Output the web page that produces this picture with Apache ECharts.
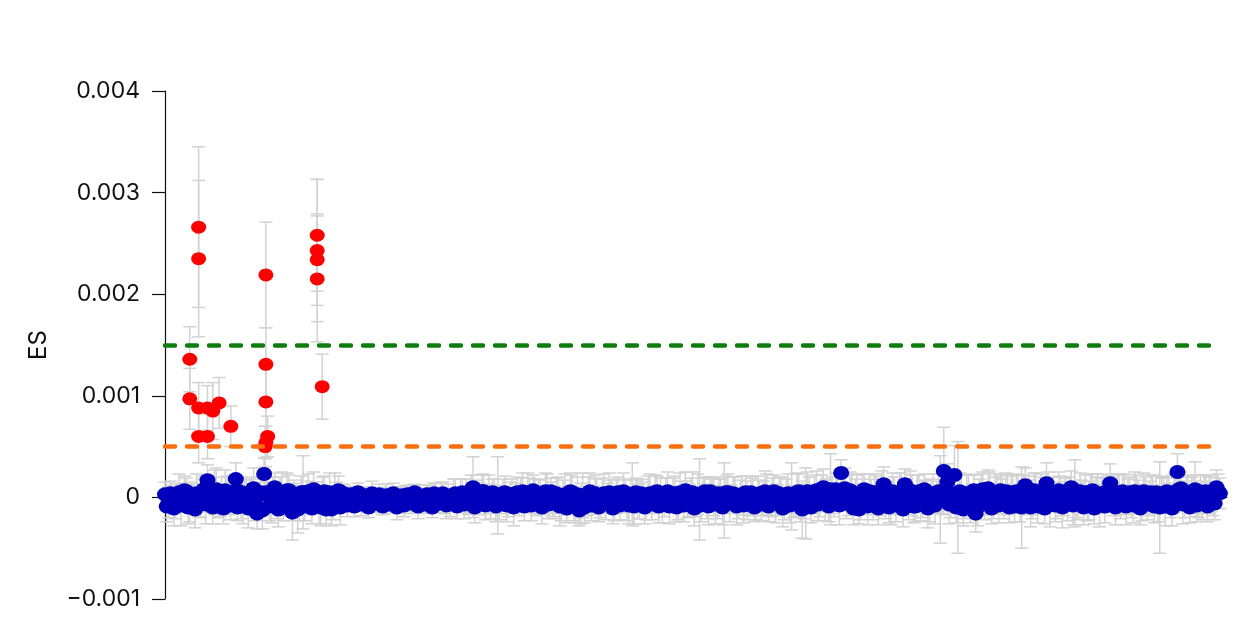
<!DOCTYPE html>
<html>
<head>
<meta charset="utf-8">
<script src="https://cdn.jsdelivr.net/npm/echarts@6/dist/echarts.min.js"></script>
<style>
    html, body { margin: 0; padding: 0; background: #fff; }
    #chart { width: 1234px; height: 623px; }
</style>
</head>
<body>
<div id="chart"></div>
<script>
// y axis ticks
const yTicks = [-0.001, 0, 0.001, 0.002, 0.003, 0.004];
const thresholds = [0.0015, 0.0005];

// significant hits (red)
const redX = [7, 7, 9.5, 9.5, 9.5, 9.5, 12, 12, 13.5, 15.3, 18.6,
    28.5, 28.5, 28.5, 29, 28.5, 28.3, 43, 43, 43, 43, 44.4];
const redES = [0.00136, 0.00097, 0.00266, 0.00235, 0.00088, 0.00060, 0.00088, 0.00060, 0.00085, 0.00093, 0.00070,
    0.00219, 0.00131, 0.00094, 0.00060, 0.00054, 0.00050, 0.00258, 0.00243, 0.00234, 0.00215, 0.00109];
const redSE = [0.00032, 0.00030, 0.00079, 0.00077, 0.00025, 0.00026, 0.00022, 0.00022, 0.00028, 0.00025, 0.00020,
    0.00052, 0.00036, 0.00035, 0.00020, 0.00016, 0.00020, 0.00055, 0.00070, 0.00045, 0.00062, 0.00032];

// everything else (blue): first set at whole positions
const blueES = [
    0.00003, -0.00005, 0.00002, -0.00007, 0.00005, -0.00002, 0.00006, -0.00008, 0.00001, 0.00004, -0.00006, 0.00008, 0.00017, -0.00003, 0.00005, -0.00009, 0.00003, 0.00007, -0.00004, 0.00002,
    0.00018, 0.00006, -0.00008, 0.00004, -0.00002, 0.00009, -0.00016, 0.00005, 0.00023, 0.00003, -0.00006, 0.00010, -0.00012, 0.00004, -0.00005, 0.00007, -0.00015, 0.00002, -0.00007, 0.00005,
    0.00002, -0.00004, 0.00008, 0.00003, -0.00010, 0.00006, -0.00003, -0.00012, 0.00004, 0.00007, -0.00002, 0.00001, -0.00003, 0.00002, -0.00001, 0.00000, -0.00002, 0.00001, -0.00003, -0.00001,
    0.00000, -0.00002, -0.00004, -0.00001, 0.00001, -0.00003, -0.00002, 0.00002, -0.00004, -0.00001, 0.00001, -0.00005, 0.00002, -0.00003, 0.00003, -0.00002, 0.00004, -0.00004, 0.00002, -0.00006,
    0.00001, -0.00003, 0.00004, -0.00002, 0.00005, 0.00002, -0.00005, 0.00010, 0.00003, -0.00004, 0.00006, 0.00001, -0.00006, 0.00004, 0.00002, -0.00003, 0.00005, -0.00007, 0.00003, 0.00001,
    -0.00004, 0.00006, -0.00002, 0.00003, 0.00007, -0.00006, 0.00001, -0.00003, 0.00004, 0.00006, -0.00005, 0.00002, -0.00008, 0.00003, -0.00002, 0.00005, -0.00009, -0.00013, 0.00002, -0.00004,
    0.00006, -0.00003, 0.00002, -0.00007, 0.00004, -0.00001, 0.00003, -0.00006, 0.00005, -0.00002, 0.00001, -0.00008, 0.00003, 0.00005, -0.00004, 0.00002, -0.00006, 0.00004, -0.00002, 0.00006,
    0.00003, -0.00005, 0.00006, -0.00002, 0.00004, -0.00007, 0.00002, 0.00007, -0.00003, 0.00005, -0.00006, -0.00002, 0.00004, -0.00004, 0.00006, 0.00001, -0.00005, 0.00003, -0.00003, 0.00005,
    -0.00002, 0.00003, -0.00006, 0.00002, 0.00005, -0.00004, 0.00001, -0.00007, 0.00004, -0.00001, 0.00003, -0.00005, 0.00006, -0.00003, 0.00002, -0.00008, 0.00004, 0.00001, -0.00004, 0.00006,
    -0.00012, -0.00006, 0.00004, -0.00002, 0.00007, -0.00004, 0.00010, 0.00002, 0.00008, -0.00005, 0.00006, 0.00024, 0.00009, -0.00003, 0.00005, 0.00002, -0.00012, 0.00004, -0.00002, 0.00006,
    -0.00006, 0.00003, -0.00004, 0.00013, 0.00001, -0.00008, 0.00004, -0.00003, 0.00006, 0.00013, -0.00005, 0.00002, -0.00009, 0.00006, -0.00002, 0.00003, -0.00007, 0.00004, 0.00001, -0.00002,
    0.00026, 0.00015, -0.00004, 0.00022, 0.00000, 0.00005, -0.00006, 0.00003, -0.00003, -0.00016, 0.00004, 0.00008, -0.00002, 0.00006, -0.00005, 0.00002, 0.00007, -0.00004, 0.00003, 0.00005,
    -0.00009, 0.00004, -0.00010, 0.00012, 0.00002, -0.00005, 0.00006, -0.00002, 0.00003, 0.00014, -0.00007, 0.00004, -0.00003, 0.00006, 0.00001, -0.00006, 0.00010, 0.00004, -0.00004, 0.00002,
    0.00005, -0.00003, 0.00007, 0.00002, -0.00008, 0.00004, 0.00006, 0.00014, -0.00002, 0.00005, -0.00006, 0.00003, 0.00001, -0.00004, 0.00006, 0.00002, -0.00005, 0.00004, -0.00001, 0.00003,
    0.00005, -0.00010, 0.00002, 0.00006, -0.00003, 0.00004, 0.00025, 0.00009, -0.00002, 0.00005, 0.00003, 0.00008, -0.00004, -0.00003, 0.00006, 0.00002, -0.00002, 0.00010, 0.00004
];
const blueSE = [
    0.00012, 0.00015, 0.00010, 0.00014, 0.00018, 0.00011, 0.00013, 0.00016, 0.00012, 0.00019, 0.00014, 0.00013, 0.00015, 0.00012, 0.00022, 0.00011, 0.00017, 0.00020, 0.00013, 0.00015,
    0.00016, 0.00014, 0.00018, 0.00013, 0.00012, 0.00020, 0.00015, 0.00013, 0.00016, 0.00012, 0.00019, 0.00014, 0.00017, 0.00021, 0.00013, 0.00015, 0.00027, 0.00012, 0.00016, 0.00036,
    0.00014, 0.00013, 0.00017, 0.00012, 0.00018, 0.00015, 0.00013, 0.00016, 0.00020, 0.00014, 0.00010, 0.00009, 0.00011, 0.00008, 0.00010, 0.00009, 0.00012, 0.00008, 0.00010, 0.00009,
    0.00008, 0.00010, 0.00009, 0.00011, 0.00008, 0.00010, 0.00012, 0.00009, 0.00010, 0.00008, 0.00011, 0.00009, 0.00010, 0.00012, 0.00009, 0.00011, 0.00010, 0.00008, 0.00013, 0.00010,
    0.00012, 0.00010, 0.00014, 0.00011, 0.00013, 0.00016, 0.00012, 0.00030, 0.00014, 0.00013, 0.00017, 0.00012, 0.00015, 0.00014, 0.00038, 0.00013, 0.00016, 0.00012, 0.00015, 0.00013,
    0.00014, 0.00018, 0.00013, 0.00016, 0.00015, 0.00012, 0.00017, 0.00014, 0.00019, 0.00013, 0.00016, 0.00018, 0.00015, 0.00020, 0.00013, 0.00017, 0.00016, 0.00015, 0.00022, 0.00014,
    0.00018, 0.00014, 0.00016, 0.00013, 0.00019, 0.00015, 0.00014, 0.00017, 0.00015, 0.00013, 0.00016, 0.00018, 0.00031, 0.00014, 0.00017, 0.00013, 0.00016, 0.00019, 0.00014, 0.00015,
    0.00016, 0.00014, 0.00019, 0.00013, 0.00017, 0.00015, 0.00014, 0.00018, 0.00016, 0.00020, 0.00013, 0.00040, 0.00015, 0.00017, 0.00014, 0.00019, 0.00016, 0.00015, 0.00037, 0.00018,
    0.00014, 0.00017, 0.00015, 0.00019, 0.00016, 0.00014, 0.00018, 0.00015, 0.00013, 0.00017, 0.00020, 0.00014, 0.00016, 0.00015, 0.00018, 0.00014, 0.00019, 0.00033, 0.00015, 0.00017,
    0.00028, 0.00035, 0.00016, 0.00014, 0.00019, 0.00015, 0.00018, 0.00016, 0.00035, 0.00014, 0.00017, 0.00013, 0.00020, 0.00015, 0.00018, 0.00016, 0.00014, 0.00019, 0.00015, 0.00017,
    0.00016, 0.00018, 0.00014, 0.00017, 0.00015, 0.00019, 0.00016, 0.00014, 0.00018, 0.00015, 0.00017, 0.00020, 0.00015, 0.00016, 0.00018, 0.00014, 0.00017, 0.00019, 0.00015, 0.00043,
    0.00043, 0.00018, 0.00016, 0.00029, 0.00055, 0.00017, 0.00015, 0.00019, 0.00016, 0.00018, 0.00014, 0.00017, 0.00015, 0.00019, 0.00016, 0.00018, 0.00015, 0.00017, 0.00020, 0.00016,
    0.00015, 0.00018, 0.00040, 0.00017, 0.00019, 0.00016, 0.00018, 0.00015, 0.00017, 0.00020, 0.00022, 0.00016, 0.00018, 0.00015, 0.00019, 0.00017, 0.00016, 0.00033, 0.00018, 0.00015,
    0.00017, 0.00019, 0.00016, 0.00018, 0.00021, 0.00015, 0.00017, 0.00019, 0.00016, 0.00018, 0.00015, 0.00020, 0.00017, 0.00016, 0.00019, 0.00015, 0.00018, 0.00016, 0.00017, 0.00019,
    0.00016, 0.00045, 0.00018, 0.00015, 0.00017, 0.00019, 0.00018, 0.00016, 0.00018, 0.00015, 0.00017, 0.00027, 0.00016, 0.00019, 0.00015, 0.00018, 0.00016, 0.00017, 0.00015
];

// second blue set, at half positions in between
const blueES2 = [
    -0.00009, 0.00004, -0.00011, 0.00001, -0.00008, 0.00007, -0.00010, 0.00003, -0.00012, -0.00004, 0.00005, -0.00007, 0.00002, -0.00010, 0.00008, -0.00006, -0.00011, 0.00003, -0.00008, 0.00006,
    -0.00010, -0.00004, 0.00003, -0.00011, 0.00006, -0.00007, 0.00002, -0.00013, 0.00005, -0.00009, 0.00004, -0.00006, 0.00001, -0.00010, 0.00007, -0.00008, 0.00003, -0.00012, 0.00005, -0.00009,
    0.00006, -0.00011, 0.00002, -0.00008, 0.00004, -0.00012, 0.00005, -0.00007, 0.00002, -0.00010, 0.00004, -0.00008, 0.00003, -0.00009, 0.00005, -0.00007, 0.00002, -0.00010, 0.00004, -0.00006,
    0.00003, -0.00009, 0.00002, -0.00007, 0.00004, -0.00010, 0.00001, -0.00008, 0.00003, -0.00006, 0.00005, -0.00009, -0.00002, -0.00007, 0.00001, -0.00010, 0.00002, -0.00006, 0.00004, -0.00008,
    -0.00006, 0.00003, -0.00009, 0.00002, -0.00007, -0.00003, 0.00004, -0.00010, 0.00001, 0.00006, -0.00008, 0.00003, 0.00005, -0.00009, -0.00005, 0.00004, -0.00008, 0.00002, -0.00010, 0.00005,
    0.00003, -0.00009, 0.00005, -0.00008, 0.00001, 0.00004, -0.00010, 0.00006, -0.00007, -0.00002, 0.00004, -0.00009, 0.00001, -0.00011, 0.00006, -0.00008, 0.00003, -0.00006, -0.00010, 0.00004,
    -0.00008, 0.00004, -0.00010, 0.00002, -0.00006, 0.00005, -0.00011, 0.00001, -0.00008, 0.00006, -0.00007, 0.00003, -0.00009, -0.00002, 0.00004, -0.00010, 0.00003, -0.00007, 0.00005, -0.00009,
    -0.00007, 0.00004, -0.00009, 0.00003, -0.00010, 0.00005, -0.00008, -0.00002, 0.00004, -0.00011, 0.00003, -0.00008, 0.00006, -0.00009, 0.00002, -0.00007, 0.00004, -0.00010, 0.00005, -0.00006,
    0.00004, -0.00009, 0.00002, -0.00008, -0.00003, 0.00005, -0.00010, 0.00003, -0.00007, 0.00006, -0.00009, 0.00002, -0.00006, 0.00004, -0.00011, 0.00003, -0.00008, -0.00004, 0.00005, -0.00009,
    -0.00004, 0.00006, -0.00010, 0.00004, -0.00007, 0.00005, -0.00003, -0.00009, 0.00002, 0.00008, -0.00008, 0.00004, -0.00006, 0.00007, -0.00011, 0.00003, -0.00005, 0.00008, -0.00009, 0.00002,
    0.00005, -0.00011, 0.00007, -0.00004, -0.00010, 0.00006, -0.00008, 0.00004, -0.00012, 0.00003, 0.00007, -0.00009, 0.00004, -0.00006, 0.00008, -0.00011, 0.00002, -0.00008, 0.00006, 0.00004,
    0.00008, -0.00007, 0.00003, -0.00010, 0.00006, -0.00012, 0.00004, -0.00008, 0.00007, -0.00010, 0.00003, -0.00006, 0.00009, -0.00011, 0.00004, -0.00008, 0.00002, 0.00006, -0.00010, 0.00003,
    0.00006, -0.00008, 0.00004, 0.00002, -0.00010, 0.00007, -0.00009, 0.00005, -0.00011, 0.00006, 0.00003, -0.00008, 0.00007, -0.00010, 0.00004, 0.00003, -0.00008, -0.00004, 0.00006, -0.00010,
    -0.00007, 0.00005, -0.00011, 0.00004, 0.00002, -0.00009, 0.00003, 0.00006, -0.00010, 0.00004, 0.00006, -0.00009, 0.00005, -0.00008, 0.00003, -0.00011, 0.00006, -0.00007, 0.00005, -0.00009,
    -0.00006, 0.00003, -0.00009, 0.00004, -0.00011, 0.00006, 0.00008, -0.00007, 0.00005, -0.00010, 0.00004, -0.00008, 0.00003, 0.00005, -0.00009, 0.00004, -0.00006, 0.00006
];
const blueSE2 = [
    0.00015, 0.00012, 0.00017, 0.00013, 0.00020, 0.00014, 0.00016, 0.00012, 0.00018, 0.00015, 0.00013, 0.00019, 0.00014, 0.00016, 0.00021, 0.00013, 0.00015, 0.00018, 0.00014, 0.00016,
    0.00013, 0.00017, 0.00015, 0.00019, 0.00014, 0.00016, 0.00013, 0.00018, 0.00020, 0.00014, 0.00016, 0.00015, 0.00019, 0.00013, 0.00017, 0.00015, 0.00014, 0.00023, 0.00016, 0.00014,
    0.00017, 0.00015, 0.00013, 0.00018, 0.00016, 0.00014, 0.00019, 0.00015, 0.00013, 0.00017, 0.00009, 0.00011, 0.00008, 0.00010, 0.00009, 0.00011, 0.00008, 0.00010, 0.00012, 0.00009,
    0.00010, 0.00008, 0.00011, 0.00009, 0.00010, 0.00012, 0.00008, 0.00011, 0.00009, 0.00010, 0.00008, 0.00012, 0.00010, 0.00009, 0.00011, 0.00010, 0.00012, 0.00009, 0.00011, 0.00013,
    0.00013, 0.00015, 0.00012, 0.00016, 0.00014, 0.00013, 0.00018, 0.00015, 0.00013, 0.00016, 0.00014, 0.00019, 0.00013, 0.00015, 0.00017, 0.00014, 0.00016, 0.00013, 0.00018, 0.00015,
    0.00016, 0.00014, 0.00019, 0.00015, 0.00017, 0.00013, 0.00016, 0.00018, 0.00014, 0.00017, 0.00015, 0.00019, 0.00016, 0.00014, 0.00018, 0.00015, 0.00017, 0.00020, 0.00015, 0.00016,
    0.00015, 0.00018, 0.00014, 0.00017, 0.00016, 0.00019, 0.00015, 0.00017, 0.00014, 0.00018, 0.00016, 0.00015, 0.00017, 0.00019, 0.00014, 0.00016, 0.00018, 0.00015, 0.00017, 0.00016,
    0.00018, 0.00015, 0.00017, 0.00016, 0.00014, 0.00019, 0.00016, 0.00018, 0.00015, 0.00017, 0.00020, 0.00016, 0.00014, 0.00018, 0.00016, 0.00019, 0.00015, 0.00017, 0.00016, 0.00018,
    0.00016, 0.00018, 0.00015, 0.00017, 0.00019, 0.00016, 0.00014, 0.00018, 0.00016, 0.00020, 0.00015, 0.00017, 0.00019, 0.00016, 0.00018, 0.00015, 0.00017, 0.00016, 0.00019, 0.00015,
    0.00017, 0.00019, 0.00015, 0.00018, 0.00016, 0.00017, 0.00020, 0.00015, 0.00018, 0.00016, 0.00019, 0.00017, 0.00015, 0.00018, 0.00016, 0.00019, 0.00017, 0.00015, 0.00018, 0.00016,
    0.00018, 0.00016, 0.00019, 0.00017, 0.00015, 0.00018, 0.00016, 0.00020, 0.00017, 0.00015, 0.00019, 0.00016, 0.00018, 0.00017, 0.00015, 0.00019, 0.00016, 0.00018, 0.00017, 0.00020,
    0.00016, 0.00019, 0.00017, 0.00015, 0.00018, 0.00016, 0.00019, 0.00017, 0.00015, 0.00018, 0.00020, 0.00016, 0.00018, 0.00015, 0.00019, 0.00017, 0.00016, 0.00018, 0.00015, 0.00019,
    0.00017, 0.00016, 0.00018, 0.00015, 0.00019, 0.00017, 0.00016, 0.00018, 0.00015, 0.00019, 0.00017, 0.00016, 0.00018, 0.00020, 0.00015, 0.00017, 0.00019, 0.00016, 0.00018, 0.00017,
    0.00016, 0.00018, 0.00015, 0.00019, 0.00017, 0.00016, 0.00018, 0.00015, 0.00017, 0.00019, 0.00016, 0.00018, 0.00015, 0.00017, 0.00019, 0.00016, 0.00018, 0.00015, 0.00017, 0.00016,
    0.00018, 0.00016, 0.00019, 0.00015, 0.00017, 0.00018, 0.00016, 0.00019, 0.00017, 0.00015, 0.00018, 0.00016, 0.00019, 0.00017, 0.00015, 0.00018, 0.00016, 0.00017
];

const bluePoints = blueES.map((v, i) => [i, v, blueSE[i]])
    .concat(blueES2.map((v, i) => [i + 0.5, v, blueSE2[i]]));
const redPoints = redES.map((v, i) => [redX[i], v, redSE[i]]);

const chart = echarts.init(document.getElementById('chart'));
const font = 'Inter, "DejaVu Sans", sans-serif';

const errorBars = {
    type: 'custom',
    z: 1,
    silent: true,
    renderItem: (params, api) => {
        const x = api.value(0), y = api.value(1), se = api.value(2);
        const top = api.coord([x, y + se]);
        const bottom = api.coord([x, y - se]);
        const half = 6.5;
        const style = { stroke: '#d2d2d2', lineWidth: 1.5 };
        return {
            type: 'group',
            children: [
                { type: 'line', shape: { x1: top[0], y1: top[1], x2: bottom[0], y2: bottom[1] }, style: style },
                { type: 'line', shape: { x1: top[0] - half, y1: top[1], x2: top[0] + half, y2: top[1] }, style: style },
                { type: 'line', shape: { x1: bottom[0] - half, y1: bottom[1], x2: bottom[0] + half, y2: bottom[1] }, style: style }
            ]
        };
    },
    encode: { x: 0, y: 1 },
    data: bluePoints.concat(redPoints)
};

const lineColors = ['#0e7d0e', '#fa6e10'];

const options = {
    animation: false,
    grid: { left: 165, right: 7, top: 91, bottom: 24, containLabel: false },
    xAxis: {
        type: 'value',
        min: 0,
        max: 300,
        axisLine: { show: true, lineStyle: { color: '#222', width: 1.2 } },
        axisTick: { show: false },
        axisLabel: { show: false },
        splitLine: { show: false }
    },
    yAxis: {
        type: 'value',
        min: yTicks[0],
        max: yTicks[yTicks.length - 1],
        interval: 0.001,
        name: 'ES',
        nameLocation: 'middle',
        nameGap: 114,
        nameTextStyle: { fontFamily: font, fontSize: 24, color: '#111' },
        axisLine: { show: true, lineStyle: { color: '#111', width: 1.2 } },
        axisTick: { show: true, inside: false, length: 13, lineStyle: { color: '#111', width: 1.2 } },
        axisLabel: {
            margin: 25,
            fontFamily: font,
            fontSize: 23,
            color: '#111',
            formatter: v => {
                if (Math.abs(v) < 1e-9) return '0';
                const s = Math.abs(v).toFixed(3);
                return v < 0 ? '\u2212' + s : s;
            }
        },
        splitLine: { show: false }
    },
    series: [
        errorBars,
        {
            type: 'scatter',
            z: 2,
            silent: true,
            data: [],
            markLine: {
                silent: true,
                symbol: 'none',
                label: { show: false },
                data: thresholds.map((t, k) => [
                    { coord: [0, t], lineStyle: { color: lineColors[k] } },
                    { coord: [297, t] }
                ]),
                lineStyle: { type: [10, 12], width: 4.5, cap: 'round' }
            }
        },
        {
            name: 'other',
            type: 'scatter',
            z: 3,
            symbol: 'circle',
            symbolSize: [16, 14],
            itemStyle: { color: '#0000bb', opacity: 1 },
            data: bluePoints
        },
        {
            name: 'hits',
            type: 'scatter',
            z: 4,
            symbol: 'circle',
            symbolSize: [15, 13],
            itemStyle: { color: '#ff0000', opacity: 1 },
            data: redPoints
        }
    ]
};

chart.setOption(options);
window.addEventListener('resize', () => chart.resize());
</script>
</body>
</html>
